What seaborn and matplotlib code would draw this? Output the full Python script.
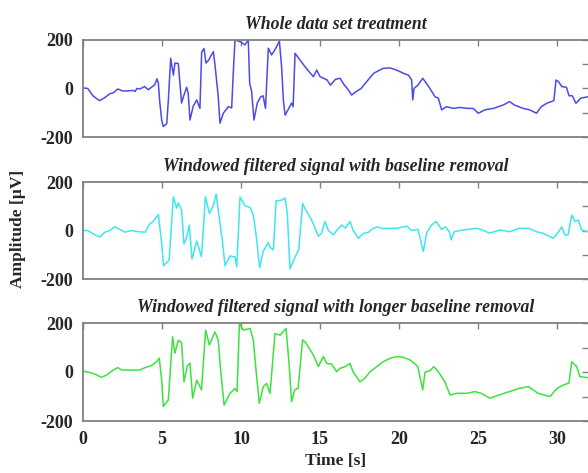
import matplotlib
matplotlib.use("Agg")
import matplotlib.pyplot as plt
import seaborn as sns
import pandas as pd

# values (time in s, amplitude in uV)
blue_t = [0.0, 0.1, 0.3, 0.63, 0.87, 1.05, 1.37, 1.69, 1.92, 2.2,
          2.5, 2.76, 3.16, 3.3, 3.4, 3.6, 3.9, 4.13, 4.44, 4.54,
          4.68, 4.77, 4.85, 4.98, 5.08, 5.3, 5.4, 5.55, 5.72, 5.82,
          6.03, 6.14, 6.24, 6.39, 6.56, 6.66, 6.77, 6.98, 7.2, 7.4,
          7.51, 7.66, 7.78, 7.93, 8.25, 8.35, 8.56, 8.67, 8.88, 9.2,
          9.41, 9.51, 9.62, 9.94, 10.25, 10.46, 10.55, 10.67, 10.82, 11.03,
          11.24, 11.4, 11.55, 11.73, 11.94, 12.15, 12.43, 12.57, 12.68, 12.79,
          13.0, 13.2, 13.3, 13.42, 13.73, 14.05, 14.3, 14.58, 14.79, 15.0,
          15.45, 15.66, 15.98, 16.27, 16.5, 16.8, 17.0, 17.3, 17.6, 17.95,
          18.4, 18.8, 19.0, 19.42, 19.85, 20.27, 20.6, 20.8, 20.87, 20.95,
          21.2, 21.5, 21.75, 21.96, 22.28, 22.49, 22.7, 23.0, 23.45, 23.87,
          24.3, 24.7, 25.02, 25.44, 25.97, 26.6, 27.0, 27.3, 27.85, 28.27,
          28.7, 29.0, 29.35, 29.8, 29.94, 30.1, 30.3, 30.6, 30.76, 30.97,
          31.2, 31.5, 31.96]
blue_v = [0, 2, 0, -30, -42, -50, -38, -22, -18, -2,
          -10, -10, -8, -12, 0, -2, 8, -5, 10, 15,
          40, 22, -50, -130, -157, -145, -50, 125, 55, 105,
          103, 20, -60, -27, 5, -20, -130, -72, -47, -82,
          150, 165, 105, 115, 152, 100, -34, -143, -102, -75,
          -80, 64, 200, 193, 180, 200, 20, -10, -130, -60,
          -35, -30, -82, 166, 138, 160, 195, 90, -47, -110,
          -85, -60, -75, 145, 118, 90, 70, 49, 76, 49,
          35, 14, 38, 42, 18, -6, -27, -12, 0, 28,
          63, 76, 83, 85, 76, 63, 55, 35, -47, 0,
          14, 42, 20, 0, -34, -40, -88, -75, -82, -78,
          -82, -82, -102, -88, -82, -68, -54, -68, -82, -88,
          -102, -75, -61, -50, 35, 28, 8, 5, -30, -30,
          -61, -40, -34]

cyan_t = [0.0, 0.3, 0.76, 1.07, 1.38, 1.7, 2.0, 2.33, 2.65, 3.07,
          3.5, 3.93, 4.13, 4.24, 4.44, 4.77, 4.98, 5.1, 5.45, 5.72,
          5.93, 6.03, 6.24, 6.39, 6.55, 6.73, 6.9, 7.2, 7.5, 7.75,
          8.0, 8.25, 8.43, 8.6, 8.8, 8.99, 9.3, 9.62, 9.73, 9.94,
          10.25, 10.57, 10.78, 10.95, 11.18, 11.41, 11.73, 11.84, 12.05, 12.22,
          12.57, 12.79, 12.93, 13.1, 13.42, 13.65, 13.9, 14.05, 14.47, 14.9,
          15.1, 15.32, 15.53, 15.85, 16.06, 16.38, 16.6, 16.9, 17.1, 17.43,
          17.75, 18.07, 18.28, 18.6, 19.0, 19.45, 19.9, 20.5, 20.8, 21.2,
          21.31, 21.54, 21.75, 22.07, 22.34, 22.7, 22.95, 23.2, 23.3, 23.5,
          24.05, 24.9, 25.3, 25.7, 26.4, 27.0, 27.6, 28.2, 28.7, 29.1,
          29.77, 30.1, 30.3, 30.5, 30.7, 30.93, 31.14, 31.35, 31.56, 31.96]
cyan_v = [0, 0, -18, -27, -7, 0, 15, 5, -7, 0,
          -5, -7, 18, 28, 37, 66, -52, -146, -122, 139,
          92, 113, 86, -56, -30, 22, -118, -44, -108, 139,
          70, 104, 150, 64, -30, -146, -105, -109, -150, 139,
          102, 95, 63, -15, -153, -85, -50, -70, -80, 122,
          125, 134, 70, -158, -110, -80, 112, 90, 43, -24,
          -10, 37, 0, -18, 0, 23, 10, 37, 0, -32,
          -12, -7, 5, 15, 8, 9, 9, 18, 0, 5,
          -25, -87, -10, 23, 37, 5, 15, -7, -39, -5,
          2, 9, 2, -11, 2, -5, 9, 9, -5, -11,
          -32, -5, 15, -18, -18, 64, 37, 43, 2, -5]

green_t = [0.0, 0.55, 0.87, 1.17, 1.5, 1.9, 2.2, 2.45, 2.76, 3.2,
           3.6, 4.0, 4.3, 4.66, 4.83, 4.98, 5.08, 5.4, 5.67, 5.82,
           6.03, 6.24, 6.39, 6.6, 6.77, 6.94, 7.2, 7.5, 7.76, 8.0,
           8.35, 8.56, 8.7, 8.93, 9.3, 9.62, 9.75, 9.9, 10.15, 10.57,
           10.78, 10.95, 11.16, 11.41, 11.62, 11.84, 12.15, 12.47, 12.85, 13.05,
           13.2, 13.4, 13.61, 13.9, 14.1, 14.58, 14.9, 15.21, 15.43, 15.74,
           16.06, 16.27, 16.6, 16.9, 17.1, 17.53, 17.85, 18.17, 18.6, 19.0,
           19.45, 19.85, 20.27, 20.7, 21.1, 21.2, 21.5, 21.65, 21.96, 22.2,
           22.5, 22.9, 23.23, 23.66, 24.3, 24.8, 25.2, 25.76, 26.4, 27.0,
           27.6, 28.2, 28.8, 29.56, 30.0, 30.4, 30.76, 30.93, 31.25, 31.45,
           31.96]
green_v = [4, -4, -12, -22, -12, 7, 18, 8, 8, 8,
           8, 20, 25, 42, 56, -33, -141, -114, 144, 77,
           130, 120, -40, 24, 36, -107, -33, -73, 171, 110,
           164, 130, 15, -135, -87, -67, -80, 198, 171, 178,
           130, 8, -128, -60, -47, -87, 157, 150, 178, 28,
           -121, -72, -67, 131, 120, 69, 22, 63, 35, 32,
           1, 15, 22, 35, 0, -40, -25, 1, 22, 42,
           56, 63, 60, 49, 28, 20, -73, 0, 5, 22,
           0, -40, -94, -87, -87, -80, -87, -107, -92, -80,
           -67, -60, -87, -100, -67, -53, -45, 42, 22, -19,
           -23]

titles = ["Whole data set treatment",
          "Windowed filtered signal with baseline removal",
          "Windowed filtered signal with longer baseline removal"]
colors = ["#4b4be8", "#3ee6f2", "#3ee23e"]
series = [(blue_t, blue_v), (cyan_t, cyan_v), (green_t, green_v)]

sns.set_theme(style="white")
plt.rcParams["font.family"] = ["Liberation Serif", "DejaVu Serif"]
plt.rcParams["font.weight"] = "bold"

fig = plt.figure(figsize=(5.88, 4.73), dpi=100)
W, H = 588, 473
left = 83 / W
boxes = [(40, 137), (182, 279), (323, 421)]

axes = []
for i, (top, bot) in enumerate(boxes):
    ax = fig.add_axes([left, 1 - bot / H, 1 - left, (bot - top) / H])
    t, v = series[i]
    df = pd.DataFrame({"t": t, "v": v})
    sns.lineplot(data=df, x="t", y="v", ax=ax, color=colors[i],
                 linewidth=1.1, sort=False)
    ax.set_xlim(0, (W - 83) / 15.8)
    ax.set_ylim(-200, 200)
    ax.set_yticks([-200, -100, 0, 100, 200])
    ax.set_yticklabels(["-200", "", "0", "", "200"])
    ax.set_xticks([0, 5, 10, 15, 20, 25, 30])
    if i < 2:
        ax.set_xticklabels([])
    ax.set_xlabel("")
    ax.set_ylabel("")
    ax.tick_params(direction="in", top=True, right=True, length=4,
                   width=1, color="#808080", labelsize=13, pad=7)
    for s in ["left", "top", "bottom"]:
        ax.spines[s].set_color("#808080")
        ax.spines[s].set_linewidth(1.3)
    ax.spines["right"].set_visible(False)
    ax.set_title(titles[i], fontsize=12.8, fontstyle="italic",
                 fontweight="bold", pad=8)
    axes.append(ax)

axes[2].set_xlabel("Time [s]", fontsize=12.5, fontweight="bold", labelpad=4)
fig.text(18 / W, 1 - 229 / H, "Amplitude [\u00b5V]", rotation=90,
         ha="center", va="center", fontsize=12.5, fontweight="bold")

fig.savefig("out.png", dpi=100)
